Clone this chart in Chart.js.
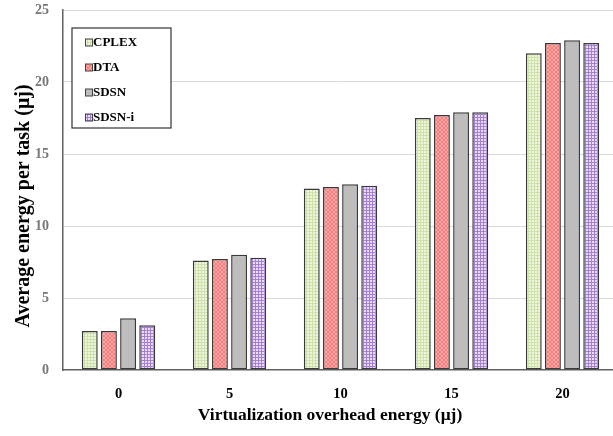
<!DOCTYPE html>
<html>
<head>
<meta charset="utf-8">
<script src="https://cdn.jsdelivr.net/npm/chart.js@4/dist/chart.umd.min.js"></script>
<style>
  html, body { margin: 0; padding: 0; background: #fff; overflow: hidden; width: 613px; height: 436px; }
  #wrap { position: relative; width: 618px; height: 436px; }
</style>
</head>
<body>
<div id="wrap"><canvas id="chart"></canvas></div>
<script>
// Grouped bars: energy per task vs virtualization overhead, four schemes.
const CATEGORIES = ['0', '5', '10', '15', '20'];
const CPLEX = [2.7, 7.6, 12.6, 17.5, 22.0];
const DTA = [2.7, 7.7, 12.7, 17.7, 22.7];
const SDSN = [3.6, 8.0, 12.9, 17.9, 22.9];
const SDSN_I = [3.1, 7.8, 12.8, 17.9, 22.7];
const Y_MIN = 0;
const Y_MAX = 25;
const Y_STEP = 5;

const SERIF = '"Liberation Serif", "Times New Roman", serif';

// small tiled fills standing in for the Excel hatch patterns
function gridPattern(base, line, size, diagonal) {
  const tile = document.createElement('canvas');
  tile.width = size;
  tile.height = size;
  const t = tile.getContext('2d');
  t.fillStyle = base;
  t.fillRect(0, 0, size, size);
  t.fillStyle = line;
  if (diagonal) {
    for (let i = 0; i < size; i++) {
      t.fillRect(i, i, 1, 1);
      t.fillRect(size - 1 - i, i, 1, 1);
    }
  } else {
    t.fillRect(0, 0, size, 1);
    t.fillRect(0, 0, 1, size);
  }
  return t.createPattern(tile, 'repeat');
}

const FILLS = [
  gridPattern('#eef5dd', '#cfe0a9', 3, false),
  gridPattern('#ffa3a3', '#f57f7f', 4, true),
  '#bdbdbd',
  gridPattern('#e9dcf6', '#a57fd6', 3, false)
];

// legend box drawn inside the plot, top-left
const legendBox = {
  id: 'legendBox',
  afterDraw(chart) {
    const { ctx, chartArea } = chart;
    const x = chartArea.left + 9;
    const y = chartArea.top + 18;
    const w = 99;
    const h = 100;
    ctx.save();
    ctx.fillStyle = '#fff';
    ctx.fillRect(x, y, w, h);
    ctx.strokeStyle = '#333';
    ctx.lineWidth = 1.2;
    ctx.strokeRect(x, y, w, h);
    ctx.font = 'bold 13px ' + SERIF;
    ctx.textBaseline = 'middle';
    chart.data.datasets.forEach((ds, i) => {
      const cy = y + 14.5 + i * 25;
      ctx.fillStyle = ds.backgroundColor;
      ctx.fillRect(x + 13.5, cy - 3.5, 7, 7);
      ctx.strokeStyle = '#444';
      ctx.lineWidth = 1;
      ctx.strokeRect(x + 13.5, cy - 3.5, 7, 7);
      ctx.fillStyle = '#000';
      ctx.fillText(ds.label, x + 21, cy + 0.5);
    });
    ctx.restore();
  }
};

// axis titles, placed where the original figure had them
const axisTitles = {
  id: 'axisTitles',
  afterDraw(chart) {
    const { ctx, chartArea } = chart;
    ctx.save();
    ctx.fillStyle = '#000';
    ctx.textAlign = 'center';
    ctx.textBaseline = 'middle';
    ctx.font = 'bold 17.5px ' + SERIF;
    ctx.fillText('Virtualization overhead energy (\u03bcj)', chartArea.left + 267, chartArea.bottom + 45);
    ctx.font = 'bold 20px ' + SERIF;
    ctx.translate(24, chartArea.top + 196);
    ctx.rotate(-Math.PI / 2);
    ctx.fillText('Average energy per task (\u03bcj)', 0, 0);
    ctx.restore();
  }
};

const barStyle = {
  borderColor: '#3a3a3a',
  borderWidth: 1.5,
  borderSkipped: false,
  categoryPercentage: 0.69,
  barPercentage: 0.83
};

new Chart(document.getElementById('chart'), {
  type: 'bar',
  data: {
    labels: CATEGORIES,
    datasets: [
      { label: 'CPLEX', data: CPLEX, backgroundColor: FILLS[0], ...barStyle },
      { label: 'DTA', data: DTA, backgroundColor: FILLS[1], ...barStyle },
      { label: 'SDSN', data: SDSN, backgroundColor: FILLS[2], ...barStyle },
      { label: 'SDSN-i', data: SDSN_I, backgroundColor: FILLS[3], ...barStyle }
    ]
  },
  options: {
    responsive: true,
    maintainAspectRatio: false,
    devicePixelRatio: 1,
    animation: false,
    layout: { padding: { top: 10, right: 0, bottom: 0, left: 0 } },
    plugins: {
      legend: { display: false },
      tooltip: { enabled: false }
    },
    scales: {
      x: {
        grid: { display: false },
        border: { display: true, color: '#606060', width: 1.5 },
        ticks: { color: '#000', font: { family: SERIF, size: 14.5, weight: 'bold' }, padding: 8 },
        afterFit(scale) { scale.height = 66; }
      },
      y: {
        min: Y_MIN,
        max: Y_MAX,
        grid: {
          color: (c) => (c.tick && c.tick.value === Y_MIN ? 'rgba(0,0,0,0)' : '#d9d9d9'),
          lineWidth: 1,
          drawTicks: false
        },
        border: { display: true, color: '#606060', width: 1.5 },
        ticks: {
          stepSize: Y_STEP,
          color: '#777',
          font: { family: SERIF, size: 14, weight: 'bold' },
          padding: 14
        },
        afterFit(scale) {
          scale.width = 63;
          scale.paddingTop = 0;
        }
      }
    }
  },
  plugins: [legendBox, axisTitles]
});
</script>
</body>
</html>
